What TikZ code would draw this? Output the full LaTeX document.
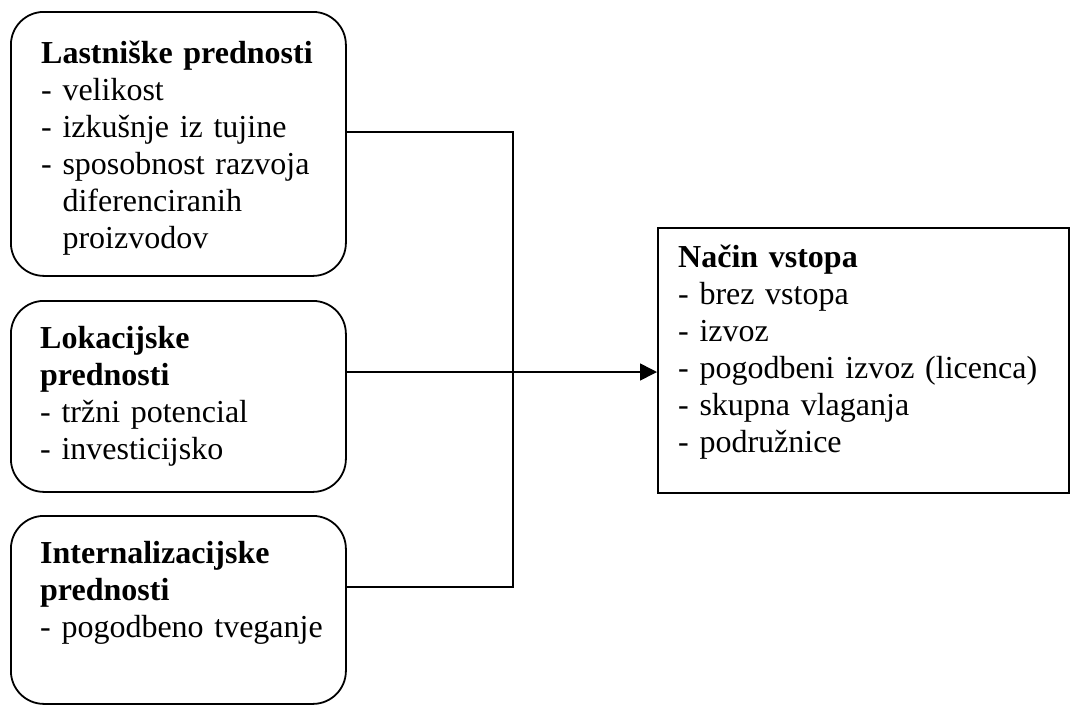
\documentclass[tikz,border=0pt]{standalone}
\usepackage{fontspec}
\setmainfont{Liberation Serif}
\usetikzlibrary{arrows.meta}
\begin{document}
\begin{tikzpicture}[x=1pt,y=1pt,
  rbox/.style={draw=black, line width=1.8pt, rounded corners=33pt, inner sep=0pt, anchor=north west},
  sbox/.style={draw=black, line width=1.8pt, inner sep=0pt, anchor=north west},
  txt/.style={inner sep=0pt, anchor=base west, text width=400pt, align=left,
              font=\fontsize{32}{37}\selectfont},
  conn/.style={draw=black, line width=1.6pt},
  arr/.style={conn, -{Triangle[length=17pt,width=17pt]}}]
\useasboundingbox (0,0) rectangle (1076,-705);
% boxes
\node[rbox, minimum width=335pt, minimum height=264pt] (b1) at (10,-11) {};
\node[rbox, minimum width=335pt, minimum height=191pt] (b2) at (10,-300) {};
\node[rbox, minimum width=335pt, minimum height=188pt] (b3) at (10,-515) {};
\node[sbox, minimum width=411pt, minimum height=265pt] (b4) at (657,-227) {};
% texts
\node[txt] (t1) at (41,-63) {\textbf{Lastniške prednosti}\\- velikost\\- izkušnje iz tujine\\- sposobnost razvoja\\\hphantom{- }diferenciranih\\\hphantom{- }proizvodov};
\node[txt] (t2) at (40,-348) {\textbf{Lokacijske}\\\textbf{prednosti}\\- tržni potencial\\- investicijsko};
\node[txt] (t3) at (40,-563) {\textbf{Internalizacijske}\\\textbf{prednosti}\\- pogodbeno tveganje};
\node[txt] (t4) at (678,-267) {\textbf{Način vstopa}\\- brez vstopa\\- izvoz\\- pogodbeni izvoz (licenca)\\- skupna vlaganja\\- podružnice};
% connectors
\coordinate (j1) at (513,-132);
\coordinate (j3) at (513,-587);
\coordinate (ja) at (0,-372);
\draw[conn] (b1.east |- j1) -- (j1) -- (j3) -- (b3.east |- j3);
\draw[arr] (b2.east |- ja) -- (b4.west |- ja);
\end{tikzpicture}
\end{document}
